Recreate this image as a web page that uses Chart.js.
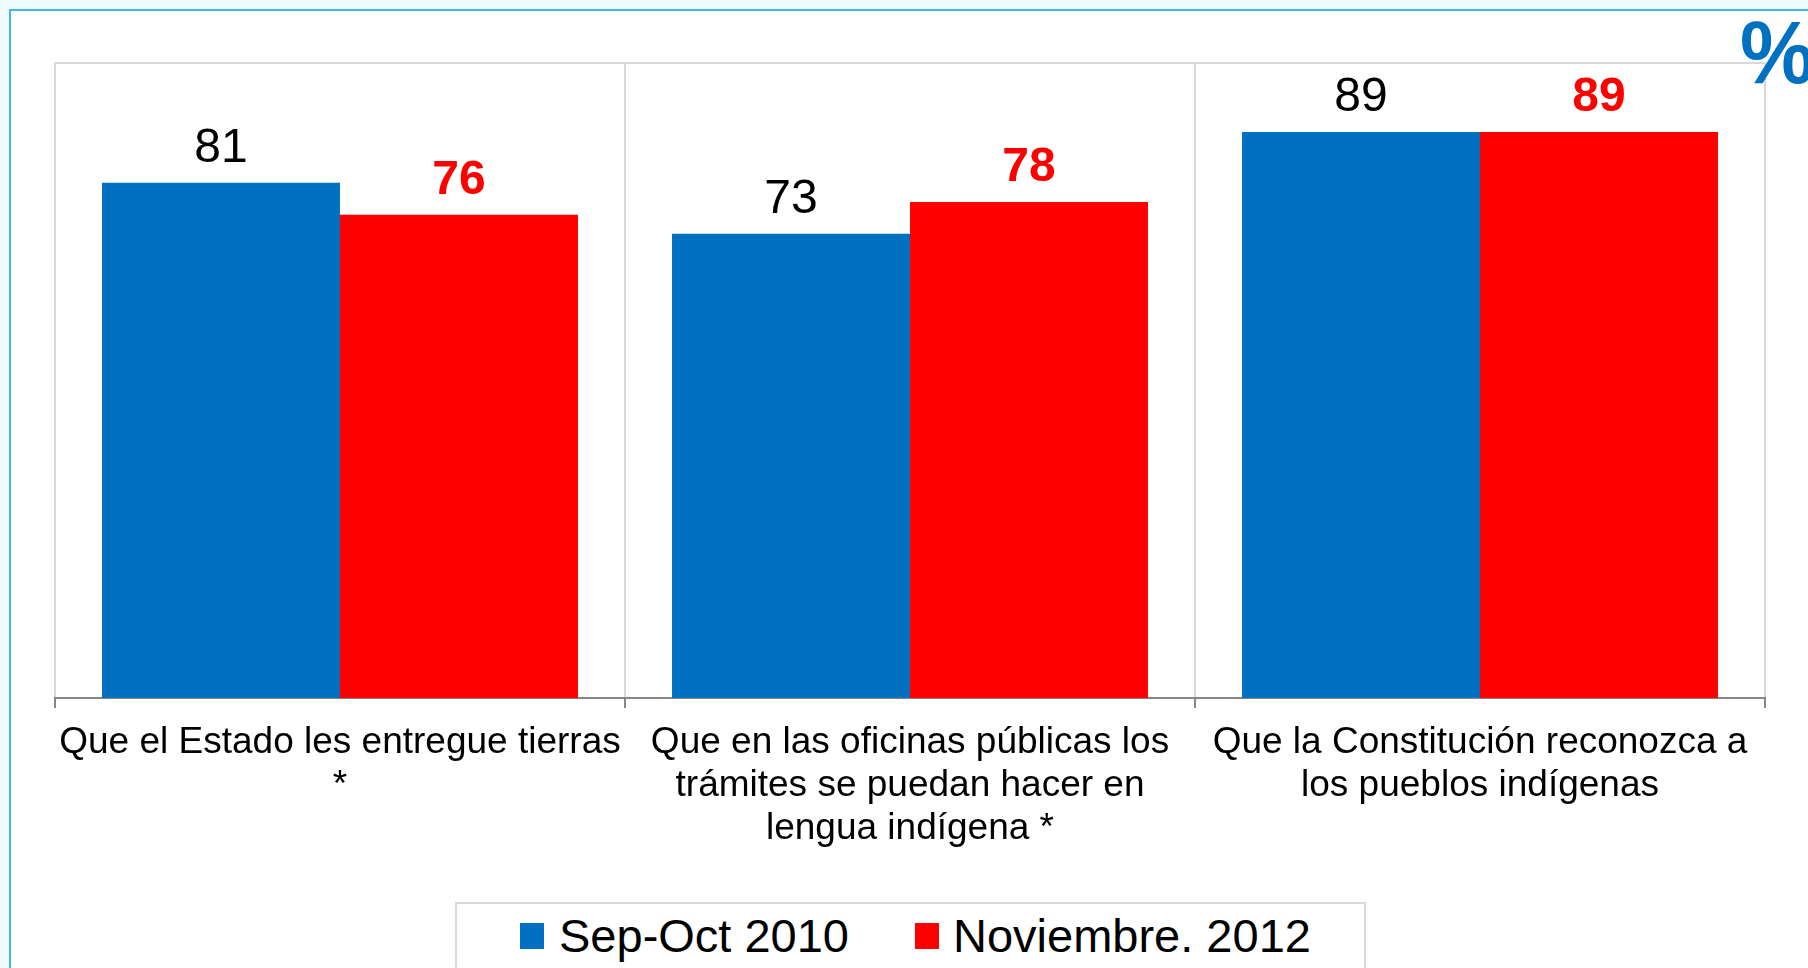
<!DOCTYPE html>
<html>
<head>
<meta charset="utf-8">
<script src="https://cdn.jsdelivr.net/npm/chart.js@4.4.1/dist/chart.umd.min.js"></script>
<style>
  html, body { margin: 0; padding: 0; width: 1808px; height: 968px; overflow: hidden; background: #effcfd; font-family: "Liberation Sans", Arial, sans-serif; }
  #frame { position: absolute; left: 9px; top: 9px; width: 1840px; height: 1000px; border: 2px solid #40b8e0; background: #fff; }
  #wrap { position: absolute; left: 0; top: 0; width: 1808px; height: 968px; }
  #pct { position: absolute; left: 1740px; top: 8px; font-size: 84px; line-height: 1; font-weight: bold; color: #0070c0; white-space: nowrap; transform: scaleY(1.06); transform-origin: top left; }
  #legend { position: absolute; left: 455px; top: 902px; width: 907px; height: 100px; border: 2px solid #d9d9d9; background: #fff; }
  #legend .sw { position: absolute; top: 19px; width: 24px; height: 26px; }
  #legend .tx { position: absolute; top: 8px; font-size: 47px; line-height: 1; color: #000; white-space: nowrap; }
</style>
</head>
<body>
<div id="frame"></div>
<div id="wrap"><canvas id="surveyChart"></canvas></div>
<div id="pct">%</div>
<div id="legend"></div>

<script>
/* ====== DATA ====== */
const categories = [
  ['Que el Estado les entregue tierras', '*'],
  ['Que en las oficinas públicas los', 'trámites se puedan hacer en', 'lengua indígena *'],
  ['Que la Constitución reconozca a', 'los pueblos indígenas']
];
const seriesNames = ['Sep-Oct 2010', 'Noviembre. 2012'];
const sepOct2010 = [81, 73, 89];
const nov2012 = [76, 78, 89];
const seriesColors = ['#0070c0', '#ff0000'];
const labelColors = ['#000000', '#ff0000'];
const labelBold = [false, true];

/* ====== PLUGINS ====== */

// top edge of the plot frame (the sides come from the x grid)
const plotFrame = {
  id: 'plotFrame',
  beforeDatasetsDraw(chart) {
    const { ctx, chartArea } = chart;
    ctx.save();
    ctx.strokeStyle = '#d9d9d9';
    ctx.lineWidth = 2;
    ctx.beginPath();
    ctx.moveTo(chartArea.left, chartArea.top + 1);
    ctx.lineTo(chartArea.right, chartArea.top + 1);
    ctx.stroke();
    ctx.restore();
  }
};

// value labels above each bar
const valueLabels = {
  id: 'valueLabels',
  afterDatasetsDraw(chart) {
    const ctx = chart.ctx;
    chart.data.datasets.forEach((ds, di) => {
      const meta = chart.getDatasetMeta(di);
      meta.data.forEach((bar, i) => {
        ctx.save();
        ctx.font = (labelBold[di] ? 'bold ' : '') + '48px "Liberation Sans", Arial, sans-serif';
        ctx.fillStyle = labelColors[di];
        ctx.textAlign = 'center';
        ctx.textBaseline = 'alphabetic';
        ctx.fillText(String(ds.data[i]), bar.x, bar.y - 21);
        ctx.restore();
      });
    });
  }
};

/* ====== CHART ====== */
const ctx = document.getElementById('surveyChart');
new Chart(ctx.getContext('2d'), {
  type: 'bar',
  data: {
    labels: categories,
    datasets: [{
      label: seriesNames[0],
      data: sepOct2010,
      backgroundColor: seriesColors[0],
      borderWidth: 0,
      categoryPercentage: 0.835,
      barPercentage: 1
    },{
      label: seriesNames[1],
      data: nov2012,
      backgroundColor: seriesColors[1],
      borderWidth: 0,
      categoryPercentage: 0.835,
      barPercentage: 1
    }]
  },
  options: {
    responsive: true,
    maintainAspectRatio: false,
    animation: false,
    layout: { padding: { left: 55, right: 43, top: 62, bottom: 120 } },
    plugins: { legend: { display: false }, tooltip: { enabled: false } },
    scales: {
      y: { display: false, min: 0, max: 100 },
      x: {
        grid: { color: '#d9d9d9', lineWidth: 2, tickColor: '#868686', tickLength: 10, offset: true },
        border: { color: '#868686', width: 2 },
        ticks: {
          color: '#000',
          padding: 13,
          maxRotation: 0,
          autoSkip: false,
          font: { family: '"Liberation Sans", Arial, sans-serif', size: 37, lineHeight: 1.17 }
        },
        afterFit: (scale) => { scale.height = 150; }
      }
    }
  },
  plugins: [plotFrame, valueLabels]
});

/* ====== LEGEND ====== */
const legendEl = document.getElementById('legend');
const swatchX = [63, 458];
const textX = [102, 496];
seriesNames.forEach((name, i) => {
  const sw = document.createElement('div');
  sw.className = 'sw';
  sw.style.left = swatchX[i] + 'px';
  sw.style.background = seriesColors[i];
  legendEl.appendChild(sw);
  const tx = document.createElement('div');
  tx.className = 'tx';
  tx.style.left = textX[i] + 'px';
  tx.textContent = name;
  legendEl.appendChild(tx);
});
</script>
</body>
</html>
